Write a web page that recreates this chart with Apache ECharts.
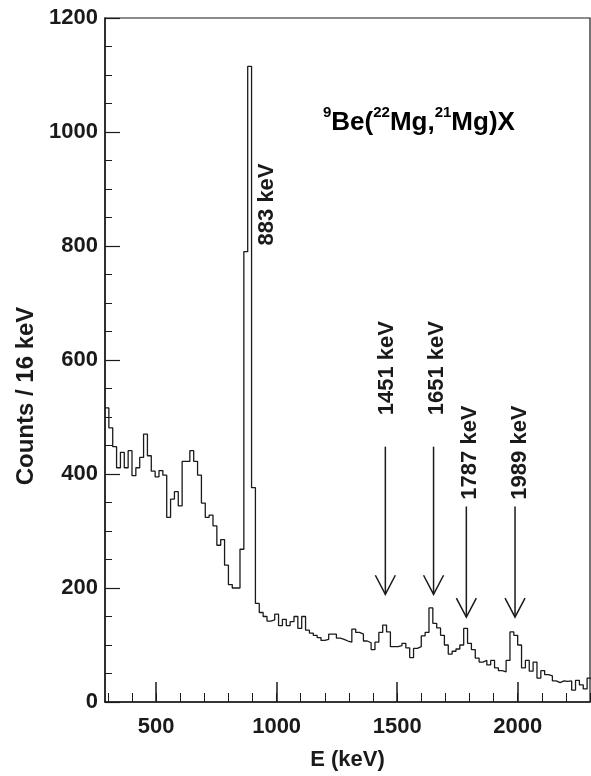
<!DOCTYPE html>
<html>
<head>
<meta charset="utf-8">
<script src="https://cdn.jsdelivr.net/npm/echarts@6/dist/echarts.min.js"></script>
<style>
  html, body { margin: 0; padding: 0; background: #fff; }
  #chart { width: 591px; height: 776px; }
</style>
</head>
<body>
<div id="chart"></div>
<script>
// histogram: 16 keV bins starting at 288 keV
const binStart = 288
const binWidth = 16
const counts = [
  516, 481, 448, 411, 438, 411, 441, 397, 411, 429,
  470, 432, 405, 395, 406, 398, 324, 356, 369, 344,
  422, 422, 441, 422, 398, 349, 324, 328, 309, 275,
  285, 240, 206, 200, 200, 268, 790, 1115, 376, 173,
  157, 150, 142, 144, 154, 134, 145, 134, 141, 150,
  129, 150, 126, 121, 117, 113, 108, 110, 119, 119,
  112, 110, 107, 105, 128, 122, 119, 107, 104, 92,
  105, 122, 135, 123, 97, 97, 99, 103, 95, 78,
  94, 97, 116, 122, 165, 138, 130, 117, 100, 84,
  89, 93, 100, 129, 103, 92, 77, 70, 73, 65,
  73, 60, 55, 53, 73, 123, 117, 100, 60, 73,
  54, 70, 42, 55, 48, 46, 37, 34, 37, 36,
  37, 21, 38, 30, 23, 42
]

// tick labels
const xMajorTicks = [500, 1000, 1500, 2000]
const xMinorTicks = [300, 400, 500, 600, 700, 800, 900, 1000, 1100, 1200, 1300, 1400,
  1500, 1600, 1700, 1800, 1900, 2000, 2100, 2200, 2300]

// peak annotations
const peakNames = ['883 keV', '1451 keV', '1651 keV', '1787 keV', '1989 keV']
const labelEnergy = [958, 1457, 1665, 1802, 2009]
const labelBase = [801, 503, 503, 355, 355]
const arrowEnergy = [1451, 1651, 1787, 1989]
const arrowFrom = [448, 448, 343, 343]
const arrowTo = [189, 189, 149, 149]

// build step points (left edges + closing right edge)
let histPoints = counts.map((c, i) => [binStart + i * binWidth, c])
histPoints.push([binStart + counts.length * binWidth, counts[counts.length - 1]])

const FONT = 'Liberation Sans, Arial, Helvetica, sans-serif'
const INK = '#1a1a1a'

let myChart = echarts.init(document.getElementById('chart'), null, { renderer: 'canvas' })

let option = {
  backgroundColor: '#fff',
  animation: false,
  grid: {
    left: 105, right: 1, top: 18, bottom: 69,
    show: true, borderColor: INK, borderWidth: 1.2,
    backgroundColor: 'transparent'
  },
  xAxis: [{
    type: 'value', min: 288, max: 2300, position: 'bottom',
    axisLine: { show: true, lineStyle: { color: INK, width: 1.5 } },
    axisTick: { show: true, inside: true, length: 9, customValues: xMinorTicks, lineStyle: { color: INK, width: 1 } },
    axisLabel: { show: false },
    splitLine: { show: false },
    name: 'E (keV)', nameLocation: 'middle', nameGap: 47,
    nameTextStyle: { fontFamily: FONT, fontWeight: 'bold', fontSize: 22, color: INK }
  }, {
    type: 'value', min: 288, max: 2300, position: 'bottom',
    axisLine: { show: false },
    axisTick: { show: true, inside: true, length: 20, customValues: xMajorTicks, lineStyle: { color: INK, width: 1.5 } },
    axisLabel: {
      customValues: xMajorTicks, margin: 14,
      formatter: v => String(v),
      fontFamily: FONT, fontWeight: 'bold', fontSize: 22, color: INK
    },
    splitLine: { show: false }
  }],
  yAxis: {
    type: 'value', min: 0, max: 1200, interval: 200,
    axisLine: { show: true, lineStyle: { color: INK, width: 1.5 } },
    axisTick: { show: true, inside: true, length: 15, lineStyle: { color: INK, width: 1.2 } },
    minorTick: { show: true, splitNumber: 4, length: 7, lineStyle: { color: INK, width: 1 } },
    axisLabel: {
      margin: 7, formatter: v => String(v),
      fontFamily: FONT, fontWeight: 'bold', fontSize: 22, color: INK
    },
    splitLine: { show: false }
  },
  graphic: [{
    type: 'text', x: 26, y: 396, rotation: Math.PI / 2,
    style: {
      text: 'Counts / 16 keV', align: 'center', verticalAlign: 'middle',
      font: 'bold 24px ' + FONT, fill: INK
    }
  }, {
    type: 'text', x: 323, y: 105,
    style: {
      text: '{s|9}{b|Be(}{s|22}{b|Mg,}{s|21}{b|Mg)X}',
      verticalAlign: 'top',
      rich: {
        b: { fontFamily: FONT, fontWeight: 'bold', fontSize: 26, lineHeight: 36, color: INK },
        s: { fontFamily: FONT, fontWeight: 'bold', fontSize: 15, lineHeight: 15, verticalAlign: 'top', color: INK }
      }
    }
  }],
  series: [{
    type: 'line',
    step: 'end',
    data: histPoints,
    symbol: 'none',
    lineStyle: { color: INK, width: 1.3 },
    clip: true
  }, {
    // arrows pointing at the peaks
    type: 'custom',
    data: arrowEnergy.map((e, i) => [e, arrowFrom[i], arrowTo[i]]),
    renderItem: function (params, api) {
      let p1 = api.coord([api.value(0), api.value(1)])
      let p2 = api.coord([api.value(0), api.value(2)])
      return {
        type: 'group',
        children: [{
          type: 'line',
          shape: { x1: p1[0], y1: p1[1], x2: p2[0], y2: p2[1] },
          style: { stroke: INK, lineWidth: 1.5 }
        }, {
          type: 'polyline',
          shape: { points: [[p2[0] - 10, p2[1] - 19], [p2[0], p2[1]], [p2[0] + 10, p2[1] - 19]] },
          style: { stroke: INK, lineWidth: 1.5, fill: null }
        }]
      }
    }
  }, {
    // rotated peak labels
    type: 'custom',
    data: labelEnergy.map((e, i) => [e, labelBase[i], i]),
    renderItem: function (params, api) {
      let p = api.coord([api.value(0), api.value(1)])
      return {
        type: 'text',
        x: p[0], y: p[1], rotation: Math.PI / 2,
        style: {
          text: peakNames[api.value(2)], align: 'left', verticalAlign: 'middle',
          font: 'bold 22px ' + FONT, fill: INK
        }
      }
    }
  }]
}

myChart.setOption(option)
</script>
</body>
</html>
